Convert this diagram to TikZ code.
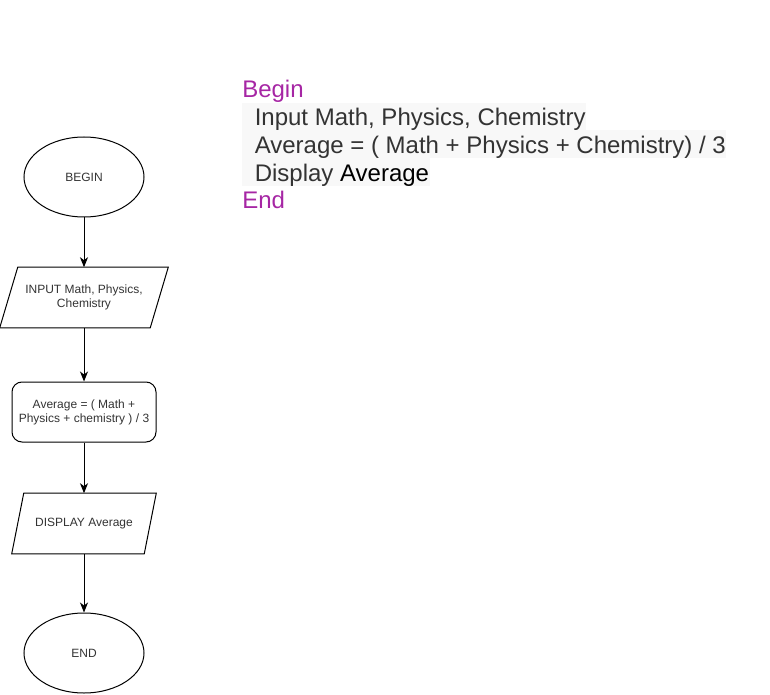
\documentclass[tikz,border=0pt]{standalone}
\usepackage{fontspec}
\setmainfont{Liberation Sans}
\usetikzlibrary{shapes.geometric,arrows.meta}
\definecolor{kwpurple}{HTML}{A626A4}
\definecolor{codegray}{HTML}{333333}
\definecolor{hlbg}{HTML}{F8F8F8}
\begin{document}
\begin{tikzpicture}[x=0.75pt,y=-0.75pt,
  every node/.style={font=\fontsize{9}{10.5}\selectfont, text=codegray},
  term/.style={draw, ellipse, minimum width=90pt, minimum height=60pt, inner sep=0pt, line width=0.75pt},
  io/.style={minimum height=45pt, inner sep=0pt, align=center},
  shapeline/.style={line width=0.75pt},
  proc/.style={draw, rounded corners=7.5pt, minimum width=108pt, minimum height=45pt, inner sep=0pt, line width=0.75pt, align=center},
  arr/.style={-{Stealth[length=7.5pt,width=6pt,inset=2.2pt]}, line width=0.75pt},
  code/.style={anchor=base west, inner sep=0pt, font=\fontsize{18}{21.6}\selectfont}]
\useasboundingbox (0,0) rectangle (770,695);
% highlight backgrounds
\fill[hlbg] (242,103) rectangle (586,130.5);
\fill[hlbg] (242,130.5) rectangle (726,158.5);
\fill[hlbg] (242,158.5) rectangle (430,186);
% pseudocode
\node[code, text=kwpurple] (c1) at (242,97.5) {Begin};
\node[code] (c2) at (254.5,125.5) {Input Math, Physics, Chemistry};
\node[code] (c3) at (254.5,153.5) {Average = ( Math + Physics + Chemistry) / 3};
\node[code] (c4) at (254.5,181.5) {Display \textcolor{black}{Average}};
\node[code, text=kwpurple] (c5) at (242,209) {End};
% flowchart
\node[term] (begin) at (84,177) {BEGIN};
\node[io, minimum width=112.5pt] (input) at (84,297.5) {INPUT Math, Physics,\\Chemistry};
\draw[shapeline] ([xshift=6.75pt]input.north west) -- ([xshift=6.75pt]input.north east)
  -- ([xshift=-6.75pt]input.south east) -- ([xshift=-6.75pt]input.south west) -- cycle;
\node[proc] (avg) at (84,412) {Average = ( Math +\\Physics + chemistry ) / 3};
\node[io, minimum width=99pt] (disp) at (84,523.5) {DISPLAY Average};
\draw[shapeline] ([xshift=4.5pt]disp.north west) -- ([xshift=4.5pt]disp.north east)
  -- ([xshift=-4.5pt]disp.south east) -- ([xshift=-4.5pt]disp.south west) -- cycle;
\node[term] (end) at (84,653) {END};
\draw[arr] (begin) -- (input);
\draw[arr] (input) -- (avg);
\draw[arr] (avg) -- (disp);
\draw[arr] (disp) -- (end);
\end{tikzpicture}
\end{document}
